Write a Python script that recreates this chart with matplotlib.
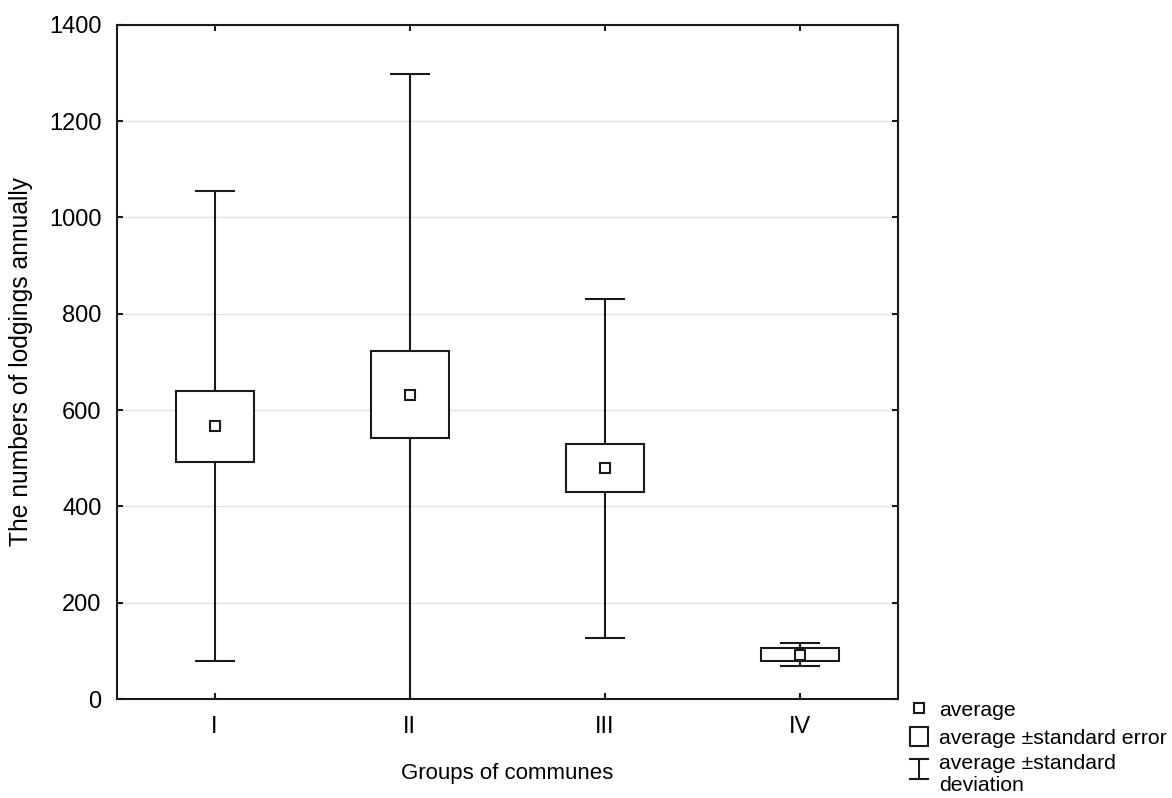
import matplotlib.pyplot as plt
from matplotlib.lines import Line2D
from matplotlib.patches import Rectangle
from matplotlib.legend_handler import HandlerBase

plt.rcParams['font.family'] = ['Liberation Sans', 'DejaVu Sans']

# values
groups = ['I', 'II', 'III', 'IV']
means = [566, 632, 479, 92]
std_err = [74, 90, 50, 14]
std_dev = [488, 666, 352, 24]

positions = list(range(1, len(groups) + 1))
ink = '#1a1a1a'


class IBeamHandler(HandlerBase):
    # draws the "I" shaped whisker symbol used in the legend
    def create_artists(self, legend, orig_handle, xdescent, ydescent,
                       width, height, fontsize, trans):
        x0, x1 = -xdescent, -xdescent + width
        y0, y1 = -ydescent + 0.27 * height, -ydescent + 1.32 * height
        cx = (x0 + x1) / 2
        segs = [([cx, cx], [y0, y1]), ([x0, x1], [y0, y0]), ([x0, x1], [y1, y1])]
        out = []
        for xs, ys in segs:
            ln = Line2D(xs, ys, color=ink, linewidth=1.5, transform=trans)
            out.append(ln)
        return out


fig = plt.figure(figsize=(11.72, 7.98), dpi=100)
ax = fig.add_axes([0.0998, 0.124, 0.666, 0.845])

# whiskers: average +- standard deviation
ax.errorbar(positions, means, yerr=std_dev, fmt='none', ecolor=ink,
            elinewidth=1.5, capsize=14.4, capthick=1.5, zorder=2)

# boxes: average +- standard error
lower = [m - s for m, s in zip(means, std_err)]
heights = [2 * s for s in std_err]
ax.bar(positions, heights, bottom=lower, width=0.4, facecolor='white',
       edgecolor=ink, linewidth=1.5, zorder=3)

# average markers
ax.plot(positions, means, ls='none', marker='s', ms=7, mfc='white',
        mec=ink, mew=1.5, zorder=4)

ax.set_xlim(0.5, 4.5)
ax.set_ylim(0, 1400)
ax.set_yticks(range(0, 1401, 200))
ax.set_xticks(positions)
ax.set_xticklabels(groups)
ax.yaxis.grid(True, color='#e3e3e3', linewidth=1)
ax.set_axisbelow(True)

ax.tick_params(direction='in', length=4, width=1.5, labelsize=17,
               top=True, right=True, color=ink)
ax.tick_params(axis='y', pad=11)
ax.tick_params(axis='x', pad=12)
for sp in ax.spines.values():
    sp.set_linewidth(1.5)
    sp.set_color(ink)

ax.set_xlabel('Groups of communes', fontsize=16, labelpad=18)
ax.set_ylabel('The numbers of lodgings annually', fontsize=17.7, labelpad=12)

# legend
sd_handle = object()
handles = [
    Line2D([], [], ls='none', marker='s', ms=7, mfc='white', mec=ink, mew=1.5),
    Rectangle((0, 0), 1, 1, facecolor='white', edgecolor=ink, linewidth=1.5),
    sd_handle,
]
labels = ['average', 'average \u00b1standard error', 'average \u00b1standard\ndeviation']
fig.legend(handles, labels, loc='upper left', bbox_to_anchor=(0.7765, 0.124),
           bbox_transform=fig.transFigure, frameon=False, fontsize=15.3,
           handlelength=0.85, handleheight=1.05, handletextpad=0.5,
           labelspacing=0.3, borderpad=0, borderaxespad=0,
           handler_map={sd_handle: IBeamHandler()})

fig.savefig('out.png', dpi=100)
